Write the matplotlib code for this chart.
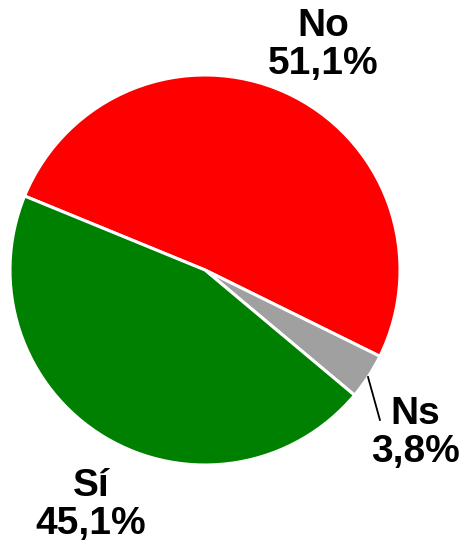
import matplotlib
matplotlib.use("Agg")
import matplotlib.pyplot as plt

categories = ["No", "Ns", "Sí"]
values = [51.1, 3.8, 45.1]
value_labels = ["51,1%", "3,8%", "45,1%"]
colors = ["#FF0000", "#A0A0A0", "#008000"]

plt.rcParams['font.family'] = ['Liberation Sans', 'DejaVu Sans']

W, H = 463, 544
fig = plt.figure(figsize=(W / 100, H / 100), dpi=100)
cx, cy, r = 205, 270, 195
ax = fig.add_axes([(cx - r) / W, (H - cy - r) / H, 2 * r / W, 2 * r / H])

ax.pie(values, colors=colors, startangle=157.7, counterclock=False,
       radius=1.0, wedgeprops=dict(edgecolor="white", linewidth=2.2))
ax.set_xlim(-1, 1)
ax.set_ylim(-1, 1)
ax.set_aspect("equal")

label_pos = [(0.605, 1.155), (1.077, -0.835), (-0.585, -1.205)]
for cat, lab, (x, y) in zip(categories, value_labels, label_pos):
    ax.text(x, y, f"{cat}\n{lab}", ha="center", va="center", fontsize=28,
            fontweight="bold", linespacing=1.06, clip_on=False)

ax.plot([0.836, 0.897], [-0.549, -0.769], color="black", lw=1.3, clip_on=False)

fig.savefig("out.png", dpi=100)
